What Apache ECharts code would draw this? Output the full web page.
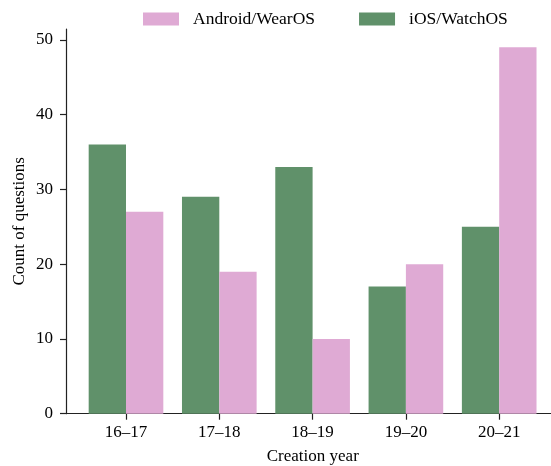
<!DOCTYPE html>
<html>
<head>
<meta charset="utf-8">
<script src="https://cdn.jsdelivr.net/npm/echarts@6/dist/echarts.min.js"></script>
<style>
html,body{margin:0;padding:0;background:#fff;}
#chart{width:551px;height:466px;}
</style>
</head>
<body>
<div id="chart"></div>
<script>
const categories = ['16–17', '17–18', '18–19', '19–20', '20–21'];
const iosValues = [36, 29, 33, 17, 25];
const androidValues = [27, 19, 10, 20, 49];
const yTickValues = [0, 10, 20, 30, 40, 50];
const seriesNames = ['Android/WearOS', 'iOS/WatchOS'];

const FONT = '"Liberation Serif", "DejaVu Serif", serif';
const AXIS_COLOR = '#222';
const Y_MAX = 51.45;

const chart = echarts.init(document.getElementById('chart'));
chart.setOption({
  animation: false,
  textStyle: { fontFamily: FONT, color: '#000' },
  legend: {
    data: seriesNames,
    left: 143,
    top: 10,
    padding: 0,
    itemWidth: 36,
    itemHeight: 13,
    itemGap: 44,
    icon: 'rect',
    textStyle: { fontFamily: FONT, fontSize: 17.5, color: '#000', padding: [0, 0, 0, 9] }
  },
  grid: [
    { left: 66, right: -8.6, top: 29, bottom: 52.3, containLabel: false, outerBoundsMode: 'none' },
    { left: 79.35, width: 466.5, top: 29, bottom: 52.3, containLabel: false, outerBoundsMode: 'none' }
  ],
  xAxis: [
    {
      gridIndex: 0, type: 'value', min: 0, max: 1,
      axisLine: { show: true, lineStyle: { color: AXIS_COLOR, width: 1.2 } },
      axisTick: { show: false }, axisLabel: { show: false }, splitLine: { show: false },
      name: 'Creation year', nameLocation: 'middle', nameGap: 34,
      nameTextStyle: { fontFamily: FONT, fontSize: 17, color: '#000' }
    },
    {
      gridIndex: 1, type: 'category', data: categories,
      axisLine: { show: false },
      axisTick: { show: true, alignWithLabel: true, length: 6, lineStyle: { color: AXIS_COLOR, width: 1.2 } },
      axisLabel: { fontFamily: FONT, fontSize: 17, color: '#000', margin: 10 },
      splitLine: { show: false }
    }
  ],
  yAxis: [
    {
      gridIndex: 0, type: 'value', min: 0, max: Y_MAX, interval: 10,
      axisLine: { show: true, lineStyle: { color: AXIS_COLOR, width: 1.2 } },
      axisTick: { show: true, length: 6, customValues: yTickValues, lineStyle: { color: AXIS_COLOR, width: 1.2 } },
      axisLabel: { fontFamily: FONT, fontSize: 17, color: '#000', margin: 13, customValues: yTickValues,
        formatter: v => (yTickValues.indexOf(v) >= 0 ? String(v) : '') },
      splitLine: { show: false },
      name: 'Count of questions', nameLocation: 'middle', nameGap: 38, nameRotate: 90,
      nameMoveOverlap: false,
      nameTextStyle: { fontFamily: FONT, fontSize: 17, color: '#000' }
    },
    {
      gridIndex: 1, type: 'value', min: 0, max: Y_MAX, show: false,
      splitLine: { show: false }
    }
  ],
  series: [
    {
      name: seriesNames[1], type: 'bar', xAxisIndex: 1, yAxisIndex: 1,
      data: iosValues, barWidth: '40%', barGap: '0%',
      itemStyle: { color: '#60916a' }
    },
    {
      name: seriesNames[0], type: 'bar', xAxisIndex: 1, yAxisIndex: 1,
      data: androidValues, barWidth: '40%', barGap: '0%',
      itemStyle: { color: '#dfaad4' }
    }
  ]
});
</script>
</body>
</html>
